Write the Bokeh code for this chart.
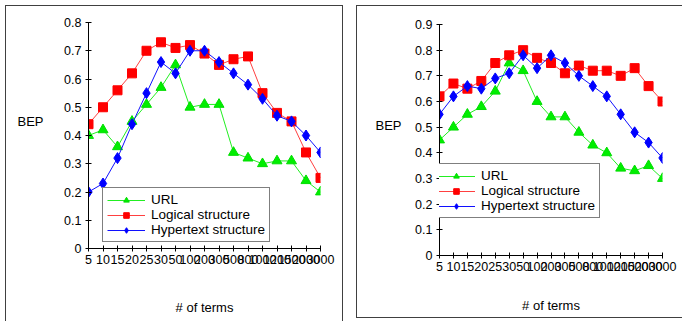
from bokeh.plotting import figure
from bokeh.models import Range1d, FixedTicker, PrintfTickFormatter, LinearAxis
from bokeh.embed import file_html
from bokeh.resources import INLINE

# Number of index terms (shared category axis of both panels)
term_labels = ["5", "10", "15", "20", "25", "30", "50", "100", "200", "300",
               "500", "800", "1000", "1200", "1500", "2000", "3000"]

# Panel A: break-even point per feature set
a_url = [0.40, 0.42, 0.36, 0.45, 0.51, 0.57, 0.65, 0.50, 0.51, 0.51,
         0.34, 0.32, 0.30, 0.31, 0.31, 0.24, 0.20]
a_logical = [0.44, 0.50, 0.56, 0.62, 0.70, 0.73, 0.71, 0.72, 0.69, 0.65,
             0.67, 0.68, 0.55, 0.48, 0.45, 0.34, 0.25]
a_hyper = [0.20, 0.23, 0.32, 0.44, 0.55, 0.66, 0.62, 0.70, 0.70, 0.66,
           0.62, 0.58, 0.53, 0.47, 0.45, 0.40, 0.34]

# Panel B
b_url = [0.45, 0.50, 0.55, 0.58, 0.64, 0.75, 0.72, 0.60, 0.54, 0.54,
         0.48, 0.43, 0.40, 0.34, 0.33, 0.35, 0.30]
b_logical = [0.62, 0.67, 0.65, 0.68, 0.75, 0.78, 0.80, 0.77, 0.75, 0.71,
             0.74, 0.72, 0.72, 0.70, 0.73, 0.66, 0.60]
b_hyper = [0.55, 0.62, 0.66, 0.65, 0.69, 0.71, 0.78, 0.73, 0.78, 0.75,
           0.70, 0.66, 0.62, 0.55, 0.48, 0.44, 0.38]

FONT = "Liberation Sans"
EDGE = "1px solid #404040"


def make_panel(width, height, y_max, frame_pad, edges, pos, url, logical,
               hyper, legend_loc, bep_y, bep_standoff, xlabel_standoff):
    left, right, top, bottom = frame_pad
    xs = list(range(len(term_labels)))
    p = figure(width=width, height=height, output_backend="svg",
               toolbar_location=None,
               x_range=Range1d(0, len(term_labels) - 1),
               y_range=Range1d(0, y_max),
               min_border_left=left, min_border_right=right,
               min_border_top=top, min_border_bottom=bottom)
    styles = {side: EDGE for side in edges}
    styles.update({"position": "absolute",
                   "left": f"{pos[0]}px", "top": f"{pos[1]}px"})
    p.styles = styles
    p.outline_line_color = None
    p.grid.visible = False
    p.background_fill_color = None
    p.border_fill_color = None

    # axes
    for ax in (p.xaxis[0], p.yaxis[0]):
        ax.axis_line_color = "black"
        ax.major_tick_line_color = "black"
        ax.minor_tick_line_color = None
        ax.major_tick_in = 3
        ax.major_tick_out = 3
        ax.major_label_text_font = FONT
        ax.major_label_text_font_size = "12.5px"
        ax.major_label_text_color = "black"

    p.xaxis.ticker = FixedTicker(ticks=xs)
    p.xaxis.major_label_overrides = {i: t for i, t in enumerate(term_labels)}
    p.xaxis.major_label_standoff = 3

    n_y = int(round(y_max * 10))
    p.yaxis.ticker = FixedTicker(ticks=[i / 10 for i in range(n_y + 1)])
    p.yaxis.formatter = PrintfTickFormatter(format="%.1f")
    p.yaxis.major_label_overrides = {0: "0"}
    p.yaxis.major_label_standoff = 4

    # horizontal "BEP" title beside the value axis
    bep = LinearAxis(ticker=FixedTicker(ticks=[bep_y]),
                     major_label_overrides={bep_y: "BEP"},
                     axis_line_color=None, major_tick_line_color=None,
                     minor_tick_line_color=None,
                     major_tick_in=0, major_tick_out=0,
                     major_label_standoff=bep_standoff,
                     major_label_text_font=FONT,
                     major_label_text_font_size="13px",
                     major_label_text_color="black")
    p.add_layout(bep, "left")

    # "# of terms" title under the category axis
    mid = (len(term_labels) - 1) / 2
    terms = LinearAxis(ticker=FixedTicker(ticks=[mid]),
                       major_label_overrides={mid: "# of terms"},
                       axis_line_color=None, major_tick_line_color=None,
                       minor_tick_line_color=None,
                       major_tick_in=0, major_tick_out=0,
                       major_label_standoff=xlabel_standoff,
                       major_label_text_font=FONT,
                       major_label_text_font_size="13px",
                       major_label_text_color="black")
    p.add_layout(terms, "below")

    # series
    p.line(xs, url, line_color="#22ee22", line_width=1, legend_label="URL")
    p.scatter(xs, url, marker="triangle", size=10, fill_color="#00ee00",
              line_color="#00dd00", legend_label="URL")
    p.line(xs, logical, line_color="#ff4040", line_width=1,
           legend_label="Logical structure")
    p.scatter(xs, logical, marker="square", size=9, fill_color="#ff0000",
              line_color="#ff0000", legend_label="Logical structure")
    p.line(xs, hyper, line_color="#1010ff", line_width=1,
           legend_label="Hypertext structure")
    p.scatter(xs, hyper, marker="diamond", size=11, fill_color="#0000ff",
              line_color="#0000ff", legend_label="Hypertext structure")

    lg = p.legend[0]
    lg.location = legend_loc
    lg.border_line_color = "black"
    lg.border_line_width = 1
    lg.background_fill_color = "white"
    lg.background_fill_alpha = 1
    lg.padding = 4
    lg.margin = 0
    lg.spacing = 0
    lg.glyph_width = 38
    lg.glyph_height = 14
    lg.label_height = 14
    lg.label_standoff = 6
    lg.label_text_font = FONT
    lg.label_text_font_size = "13.5px"
    lg.label_text_line_height = 1.0
    lg.label_text_color = "black"
    return p


p1 = make_panel(338, 316, 0.8, (82, 24, 16, 74),
                ("border-left", "border-top", "border-right"), (5, 5),
                a_url, a_logical, a_hyper, (14, 6), 0.45, 18, 33)
p2 = make_panel(326, 313, 0.9, (82, 21, 18, 64),
                ("border-left", "border-top", "border-bottom"), (356, 5),
                b_url, b_logical, b_hyper, (-7, 37), 0.505, 11, 24)

open("out.html", "w").write(file_html([p1, p2], INLINE))
